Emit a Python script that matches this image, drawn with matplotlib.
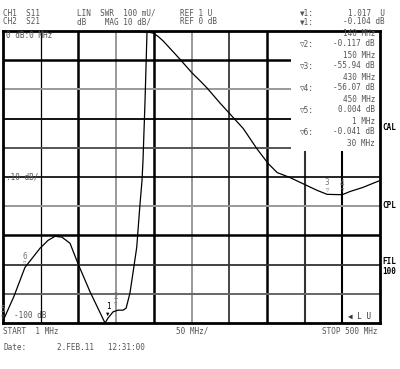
import matplotlib
matplotlib.use("Agg")
import matplotlib.pyplot as plt
from matplotlib.patches import Rectangle

# ---------------- data ----------------
# Channel 1: S11 as SWR (linear, REF 1 U at bottom, 100 mU/div)
swr_freq = [1, 15.6, 30, 50, 60.6, 70, 79, 89.7, 100, 116, 129, 136, 140, 146.6,
            153, 160, 164, 169, 173, 178, 182, 185, 186.3, 189, 191.6]
swr_val = [1.007, 1.092, 1.19, 1.256, 1.283, 1.297, 1.294, 1.273, 1.205, 1.108, 1.038,
           1.000, 1.017, 1.038, 1.044, 1.044, 1.051, 1.102, 1.171, 1.259, 1.396, 1.488,
           1.556, 1.761, 1.997]
# Channel 2: S21 log magnitude (REF 0 dB at top, 10 dB/div)
s21_freq = [1, 30, 140, 150, 182, 193, 199.5, 206, 213, 235, 251, 262, 271, 288, 301,
            319, 337, 352, 364, 381, 403, 417, 430, 450, 460, 477, 500]
s21_db = [0.004, -0.041, -0.104, -0.117, -0.2, -0.4, -0.7, -1.8, -3.4, -9.6, -14.3,
          -17.1, -19.5, -24.6, -28.3, -33.4, -40.3, -45.4, -48.5, -50.2, -52.9, -54.6,
          -55.94, -56.07, -55.0, -53.6, -51.2]

# markers: (label, channel, freq, value)
markers = [("1", "swr", 140, 1.017), ("2", "swr", 150, 1.05), ("5", "swr", 1, 1.007),
           ("6", "swr", 30, 1.19), ("3", "s21", 430, -55.94), ("4", "s21", 450, -56.07)]

table_rows = ["140 MHz", ("\u25bd2:", "-0.117 dB"), "150 MHz", ("\u25bd3:", "-55.94 dB"),
              "430 MHz", ("\u25bd4:", "-56.07 dB"), "450 MHz", ("\u25bd5:", "0.004 dB"),
              "1 MHz", ("\u25bd6:", "-0.041 dB"), "30 MHz"]

f_start, f_stop = 1, 500
db_min, db_max = -100, 0
swr_min, swr_max = 1.0, 2.0

# ---------------- figure ----------------
W, H = 400, 369
fig = plt.figure(figsize=(W / 100, H / 100), dpi=100)
fig.patch.set_facecolor("white")
L, R, T, B = 3, 380, 31, 323
ax = fig.add_axes([L / W, 1 - B / H, (R - L) / W, (B - T) / H])
ax.set_xlim(f_start, f_stop)
ax.set_ylim(db_min, db_max)
ax.set_xticks([]); ax.set_yticks([])
for s in ax.spines.values():
    s.set_linewidth(2.0)
    s.set_color("black")
ax2 = ax.twinx()
ax2.set_ylim(swr_min, swr_max)
ax2.set_yticks([])
for s in ax2.spines.values():
    s.set_visible(False)

fam = ["DejaVu Sans Mono", "DejaVu Sans"]
gray = "#555555"

# grid
vstyle = {1: ("black", 0.9), 2: ("black", 1.8), 3: ("#999999", 1.4), 4: ("black", 1.8),
          5: ("#999999", 1.4), 6: ("#444444", 1.4), 7: ("black", 1.8), 8: ("#333333", 1.5),
          9: ("black", 1.5)}
hstyle = {1: ("black", 1.8), 2: ("#999999", 1.4), 3: ("black", 1.3), 4: ("#555555", 1.4),
          5: ("black", 1.2), 6: ("#999999", 1.4), 7: ("black", 1.8), 8: ("#333333", 1.3),
          9: ("#666666", 1.4)}
step_f = (f_stop - f_start) / 10
step_db = (db_max - db_min) / 10
for i, (c, lw) in vstyle.items():
    ax.axvline(f_start + i * step_f, color=c, lw=lw, zorder=1)
for j, (c, lw) in hstyle.items():
    ax.axhline(db_max - j * step_db, color=c, lw=lw, zorder=1)

# marker table box (covers grid in the upper right)
ax.add_patch(Rectangle((0.765, 0.59), 0.25, 0.42, transform=ax.transAxes,
                       facecolor="white", edgecolor="none", zorder=2))

# traces
ax.plot(s21_freq, s21_db, color="black", lw=0.9, zorder=4)
ax2.plot(swr_freq, swr_val, color="black", lw=0.9, zorder=4)

# marker labels
for lab, ch, f, v in markers:
    a = ax2 if ch == "swr" else ax
    col = "black" if lab == "1" else "#777777"
    a.annotate(lab, (f, v), xytext=(0, 5), textcoords="offset points", ha="center",
               va="bottom", fontsize=5.5, color=col, family=fam, zorder=6)
    a.annotate("\u25bc" if lab == "1" else "\u25bd", (f, v), xytext=(0, 1),
               textcoords="offset points", ha="center", va="bottom", fontsize=4,
               color=col, family=fam, zorder=6)

def t(x, y, s, **kw):
    kw.setdefault("fontsize", 5.5)
    kw.setdefault("color", gray)
    kw.setdefault("family", fam)
    kw.setdefault("va", "center")
    fig.text(x / W, 1 - y / H, s, **kw)

# header
t(3, 13, "CH1  S11")
t(77, 13, "LIN  SWR  100 mU/")
t(180, 13, "REF 1 U")
t(300, 13, "\u25bc1:")
t(385, 13, "1.017  U", ha="right")
t(3, 22, "CH2  S21")
t(77, 22, "dB    MAG 10 dB/")
t(180, 22, "REF 0 dB")
t(300, 22, "\u25bc1:")
t(385, 22, "-0.104 dB", ha="right")

# table
for k, row in enumerate(table_rows):
    y = 33 + 11 * k
    if isinstance(row, tuple):
        t(300, y, row[0], zorder=5)
        t(375, y, row[1], ha="right", zorder=5)
    else:
        t(375, y, row, ha="right", zorder=5)

# inside-plot labels
t(6, 36, "0 dB:0 MHz")
t(6, 177, ".10 dB/")
t(14, 316, "-100 dB")
t(348, 316, "\u25c0 L U", color="#333333")

# right side labels
for y, s in [(128, "CAL"), (205, "CPL"), (262, "FIL"), (271, "100")]:
    t(382, y, s, color="black", fontweight="bold", fontsize=5.5)

# footer
t(3, 331, "START  1 MHz")
t(176, 331, "50 MHz/")
t(378, 331, "STOP 500 MHz", ha="right")
t(3, 347, "Date:")
t(57, 347, "2.FEB.11   12:31:00")

fig.savefig("out.png", dpi=100, facecolor="white")
